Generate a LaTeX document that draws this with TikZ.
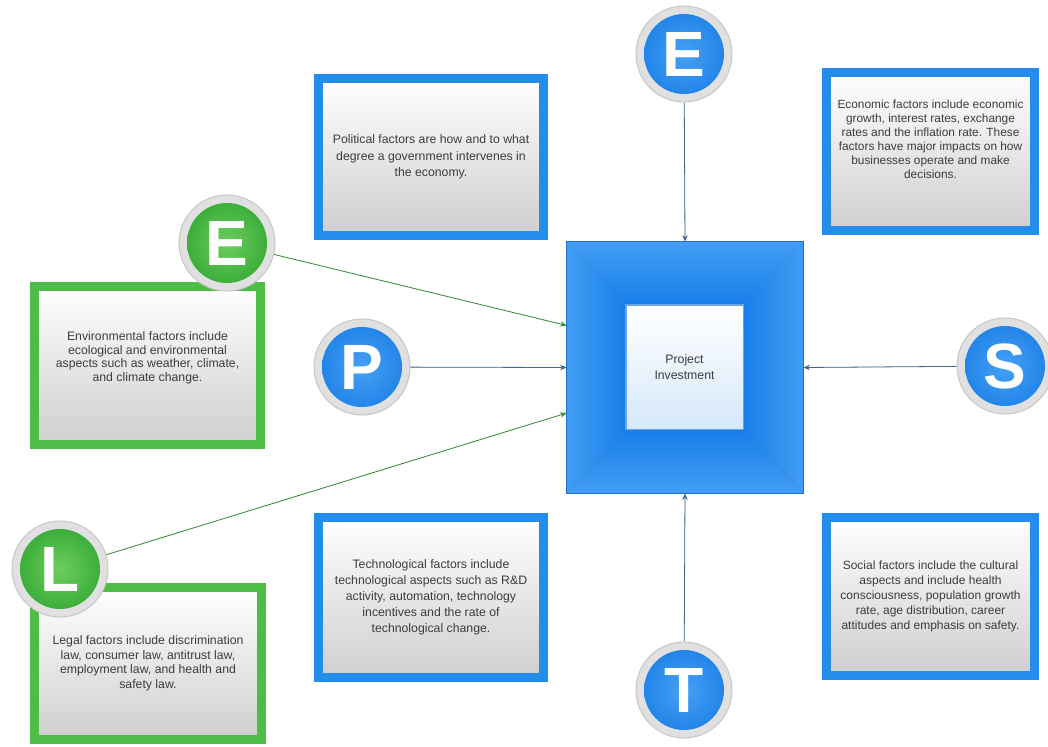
\documentclass[tikz,border=0pt]{standalone}
\usepackage{fontspec}
\setmainfont{Liberation Sans}
\usetikzlibrary{arrows.meta,calc}
\definecolor{bbox}{RGB}{36,140,234}
\definecolor{gbox}{RGB}{80,188,72}
\definecolor{textgray}{RGB}{60,60,60}
\definecolor{ringgray}{RGB}{224,224,224}
\definecolor{ringedge}{RGB}{200,200,200}
\definecolor{bubblue}{RGB}{28,128,230}
\definecolor{bubbluelt}{RGB}{70,160,245}
\definecolor{bubgreen}{RGB}{50,168,50}
\definecolor{bubgreenlt}{RGB}{110,205,95}
\definecolor{connblue}{RGB}{66,104,150}
\definecolor{conngreen}{RGB}{58,140,58}
\definecolor{bevA}{RGB}{66,158,243}
\definecolor{bevB}{RGB}{24,126,234}
\definecolor{bevEdge}{RGB}{30,110,200}
\definecolor{innbot}{RGB}{214,232,250}
\definecolor{innedge}{RGB}{110,165,225}
\begin{document}
\begin{tikzpicture}[x=0.75pt,y=-0.75pt,
  infobox/.style={draw=#1, line width=6.75pt, top color=white, bottom color=gray!38,
    align=center, text=textgray, inner sep=0pt},
  bubble/.style={circle, inner sep=0pt, minimum size=72pt, fill=ringgray, draw=ringedge,
    line width=0.8pt, text=white, font=\fontsize{48}{48}\selectfont\bfseries},
  bluebub/.style={bubble, path picture={\shade[inner color=bubbluelt, outer color=bubblue]
    (path picture bounding box.center) circle (30pt);}},
  greenbub/.style={bubble, path picture={\shade[inner color=bubgreenlt, outer color=bubgreen]
    (path picture bounding box.center) circle (30pt);}},
  conn/.style={-{Stealth[length=5pt,width=4pt]}, line width=0.6pt},
  blueconn/.style={conn, draw=connblue, fill=connblue},
  greenconn/.style={conn, draw=conngreen, fill=conngreen}
]
\useasboundingbox (0,0) rectangle (1048,746);
\fill[white] (0,0) rectangle (1048,746);

% info boxes
\node[infobox=bbox, minimum width=168.75pt, minimum height=117.75pt,
  font=\fontsize{9.2}{12.2}\selectfont] (polbox) at (431,157)
  {Political factors are how and to what\\degree a government intervenes in\\the economy.};
\node[infobox=bbox, minimum width=156pt, minimum height=118.5pt,
  font=\fontsize{8.9}{10.4}\selectfont] (ecobox) at (930.5,151.5)
  {Economic factors include economic\\growth, interest rates, exchange\\rates and the inflation rate. These\\factors have major impacts on how\\businesses operate and make\\decisions.\\[8pt]};
\node[infobox=gbox, minimum width=169.5pt, minimum height=118.5pt,
  font=\fontsize{9.2}{10.2}\selectfont] (envbox) at (147.5,365.5)
  {Environmental factors include\\ecological and environmental\\aspects such as weather, climate,\\and climate change.\\[3pt]};
\node[infobox=gbox, minimum width=170.25pt, minimum height=114pt,
  font=\fontsize{9.2}{10.9}\selectfont] (legbox) at (148,663.5)
  {Legal factors include discrimination\\law, consumer law, antitrust law,\\employment law, and health and\\safety law.};
\node[infobox=bbox, minimum width=168.75pt, minimum height=120pt,
  font=\fontsize{9.2}{12}\selectfont] (tecbox) at (431,597.5)
  {Technological factors include\\technological aspects such as R\&D\\activity, automation, technology\\incentives and the rate of\\technological change.};
\node[infobox=bbox, minimum width=156pt, minimum height=118.5pt,
  font=\fontsize{9}{11.3}\selectfont] (socbox) at (930.5,596.5)
  {Social factors include the cultural\\aspects and include health\\consciousness, population growth\\rate, age distribution, career\\attitudes and emphasis on safety.};

% central bevelled square
\node[minimum width=177pt, minimum height=188.25pt, inner sep=0pt] (ctr) at (685,367.5) {};
\node[draw=innedge, line width=0.5pt, top color=white, bottom color=innbot,
  minimum width=87.75pt, minimum height=93pt, inner sep=0pt, align=center,
  text=textgray, font=\fontsize{9.2}{12.5}\selectfont] (inn) at (684.5,367) {Project\\Investment};
\shade[top color=bevA, bottom color=bevB] (ctr.north west) -- (ctr.north east) -- (inn.north east) -- (inn.north west) -- cycle;
\shade[top color=bevB, bottom color=bevA] (ctr.south west) -- (ctr.south east) -- (inn.south east) -- (inn.south west) -- cycle;
\shade[left color=bevA, right color=bevB] (ctr.north west) -- (inn.north west) -- (inn.south west) -- (ctr.south west) -- cycle;
\shade[left color=bevB, right color=bevA] (ctr.north east) -- (inn.north east) -- (inn.south east) -- (ctr.south east) -- cycle;
\draw[bevEdge, line width=0.3pt, opacity=0.5] (ctr.north west) -- (inn.north west)
  (ctr.north east) -- (inn.north east) (ctr.south west) -- (inn.south west) (ctr.south east) -- (inn.south east);
\draw[bevEdge, line width=0.5pt] (ctr.north west) rectangle (ctr.south east);
\draw[innedge, line width=0.5pt] (inn.north west) rectangle (inn.south east);

% letter bubbles
\node[bluebub] (eT) at (684,54) {E};
\node[greenbub] (eG) at (227,243) {E};
\node[bluebub] (pC) at (362,367) {P};
\node[bluebub] (sC) at (1005,366) {S};
\node[greenbub] (lC) at (60,569) {L};
\node[bluebub] (tC) at (684,690) {T};

% connectors
\coordinate (cw1) at ($(ctr.west)+(0,-42)$);
\coordinate (cw2) at ($(ctr.west)+(0,45.5)$);
\draw[blueconn] (eT) -- (ctr.north);
\draw[greenconn] (eG) -- (cw1);
\draw[blueconn] (pC) -- (ctr.west);
\draw[blueconn] (sC) -- (ctr.east);
\draw[greenconn] (lC) -- (cw2);
\draw[blueconn] (tC) -- (ctr.south);
\end{tikzpicture}
\end{document}
